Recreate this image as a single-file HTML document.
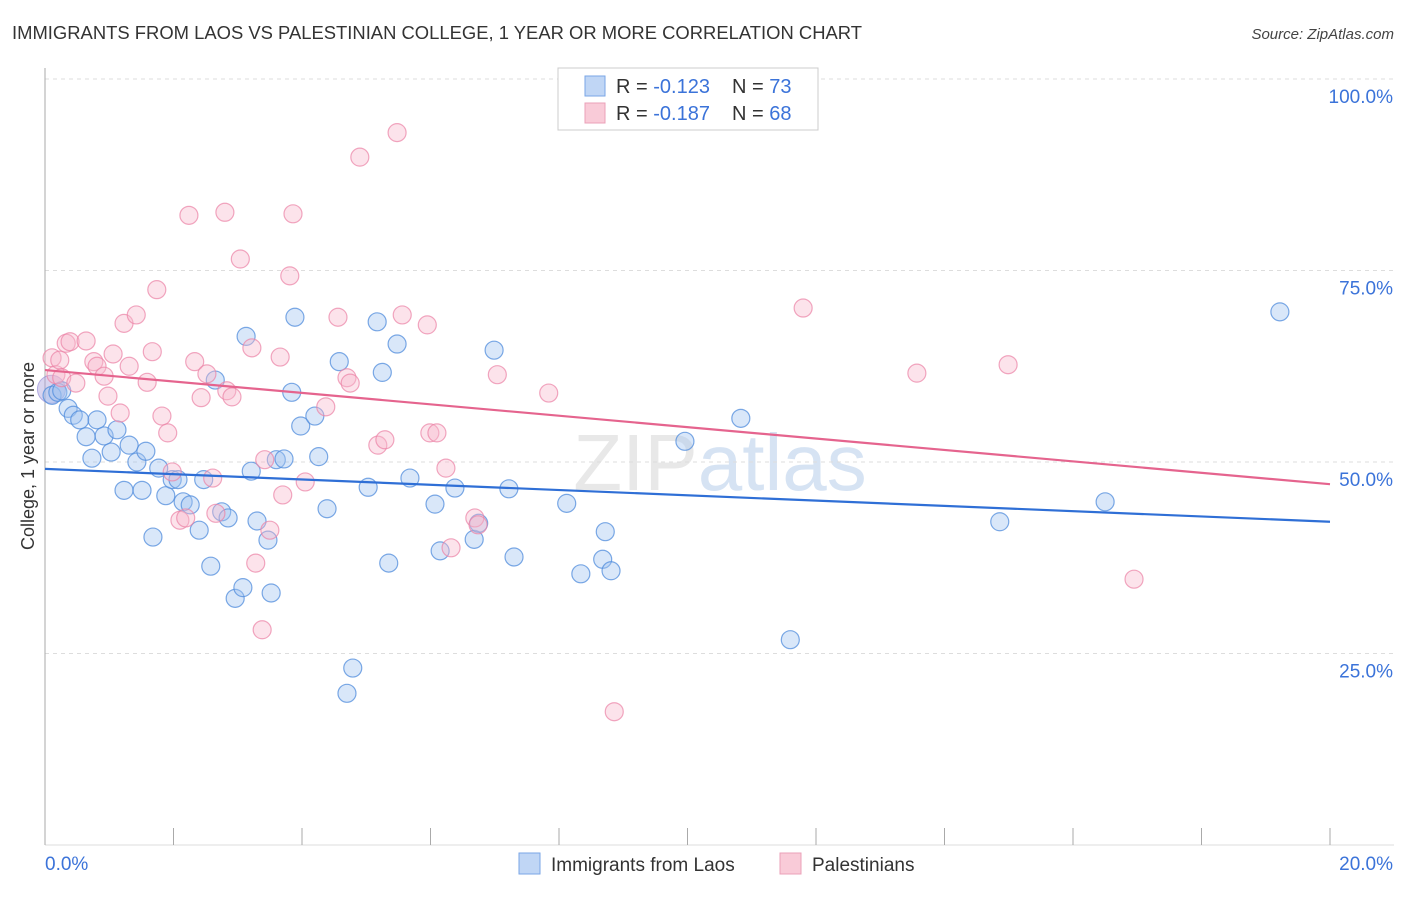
<!DOCTYPE html>
<html><head><meta charset="utf-8"><style>
body{margin:0;background:#fff;font-family:"Liberation Sans",sans-serif;}
svg text{font-family:"Liberation Sans",sans-serif;}
</style></head><body>
<svg id="chart" width="1406" height="892">
<text x="12" y="39" font-size="18" fill="#333" textLength="850" lengthAdjust="spacingAndGlyphs">IMMIGRANTS FROM LAOS VS PALESTINIAN COLLEGE, 1 YEAR OR MORE CORRELATION CHART</text>
<text x="1394" y="39" font-size="15" fill="#444" font-style="italic" text-anchor="end">Source: ZipAtlas.com</text>
<text x="34" y="456" font-size="18" fill="#333" text-anchor="middle" transform="rotate(-90 34 456)">College, 1 year or more</text>
<text x="720" y="490" font-size="80" fill="#e8e8e8" text-anchor="middle" font-family="Liberation Serif">ZIP<tspan fill="#d6e3f3" font-family="Liberation Sans">atlas</tspan></text>
<g id="grid"></g><g id="pts"></g><g id="lines"></g>
<g>
<rect x="558" y="68" width="260" height="62" fill="#fff" stroke="#ccc"/>
<rect x="585" y="76" width="20" height="20" fill="#c0d6f5" stroke="#7aa6e6"/>
<rect x="585" y="103" width="20" height="20" fill="#f9cbd8" stroke="#eba0b8"/>
<text x="616" y="93" font-size="20" fill="#333">R = <tspan fill="#3b73d9">-0.123</tspan></text>
<text x="732" y="93" font-size="20" fill="#333">N = <tspan fill="#3b73d9">73</tspan></text>
<text x="616" y="120" font-size="20" fill="#333">R = <tspan fill="#3b73d9">-0.187</tspan></text>
<text x="732" y="120" font-size="20" fill="#333">N = <tspan fill="#3b73d9">68</tspan></text>
</g>
<g>
<rect x="519" y="853" width="21" height="21" fill="#c0d6f5" stroke="#7aa6e6"/>
<text x="551" y="871" font-size="19" fill="#333">Immigrants from Laos</text>
<rect x="780" y="853" width="21" height="21" fill="#f9cbd8" stroke="#eba0b8"/>
<text x="812" y="871" font-size="19" fill="#333">Palestinians</text>
</g>
</svg>
<script>
const blueX=[0.11,0.20,0.26,0.36,0.44,0.54,0.64,0.73,0.81,0.92,1.03,1.12,1.23,1.31,1.43,1.51,1.57,1.68,1.77,1.88,1.98,2.07,2.15,2.26,2.40,2.47,2.58,2.65,2.75,2.85,2.96,3.08,3.13,3.21,3.30,3.47,3.52,3.60,3.72,3.84,3.89,3.98,4.20,4.26,4.39,4.58,4.79,4.70,5.03,5.17,5.25,5.35,5.48,5.68,6.07,6.15,6.38,6.68,6.75,6.99,7.22,7.30,8.12,8.34,8.68,8.72,8.81,9.96,10.83,11.60,14.86,16.50,19.22];
const blueY=[58.7,59.1,59.3,57.0,56.1,55.5,53.3,50.5,55.5,53.4,51.3,54.2,46.3,52.2,50.0,46.3,51.4,40.2,49.2,45.6,47.7,47.7,44.8,44.4,41.1,47.7,36.4,60.7,43.5,42.7,32.2,33.6,66.4,48.8,42.3,39.8,32.9,50.3,50.4,59.1,68.9,54.7,56.0,50.7,43.9,63.1,23.1,19.8,46.7,68.3,61.7,36.8,65.4,47.9,44.5,38.4,46.6,39.9,42.0,64.6,46.5,37.6,44.6,35.4,37.3,40.9,35.8,52.7,55.7,26.8,42.2,44.8,69.6];
const pinkX=[0.11,0.17,0.23,0.26,0.33,0.39,0.48,0.64,0.76,0.81,0.92,0.98,1.06,1.17,1.23,1.31,1.42,1.59,1.67,1.74,1.82,1.91,1.98,2.10,2.19,2.24,2.33,2.43,2.52,2.61,2.66,2.80,2.83,2.91,3.04,3.22,3.28,3.38,3.42,3.50,3.66,3.70,3.81,3.86,4.05,4.37,4.56,4.70,4.75,4.90,5.18,5.29,5.48,5.56,5.95,5.99,6.10,6.24,6.32,6.69,6.74,7.04,7.84,8.86,11.80,13.57,14.99,16.95];
const pinkY=[63.6,61.4,63.3,61.0,65.5,65.7,60.3,65.8,63.1,62.5,61.2,58.6,64.1,56.4,68.1,62.5,69.2,60.4,64.4,72.5,56.0,53.8,48.7,42.4,42.7,82.2,63.1,58.4,61.5,47.9,43.3,82.6,59.3,58.5,76.5,64.9,36.8,28.1,50.3,41.1,63.7,45.7,74.3,82.4,47.4,57.2,68.9,61.0,60.3,89.8,52.2,52.9,93.0,69.2,67.9,53.8,53.8,49.2,38.8,42.7,41.8,61.4,59.0,17.4,70.1,61.6,62.7,34.7];
const blueTrend=[49.1,42.2];
const pinkTrend=[62.0,47.1];
const yTicks=[25,50,75,100];
const xTicks=[0,2,4,6,8,10,12,14,16,18,20];
const X=v=>45+v/20*1285, Y=v=>845-v/100*766;
const NS='http://www.w3.org/2000/svg';
function mk(tag,attrs,parent){const e=document.createElementNS(NS,tag);for(const k in attrs)e.setAttribute(k,attrs[k]);parent.appendChild(e);return e;}
const grid=document.getElementById('grid'),pts=document.getElementById('pts'),lines=document.getElementById('lines'),svg=document.getElementById('chart');
yTicks.forEach(t=>{
 const l=mk('line',{x1:45,x2:1394,y1:Y(t),y2:Y(t),stroke:'#ddd','stroke-dasharray':'4 4'},grid);
 
 
 const tx=mk('text',{x:1393,y:Y(t)+24,'font-size':19,fill:'#3b73d9','text-anchor':'end'},svg);
 tx.textContent=t.toFixed(1)+'%';
 
 
});
const ax=mk('line',{x1:45,x2:45,y1:68,y2:845,stroke:'#aaa'},grid);


const bx=mk('line',{x1:45,x2:1394,y1:845,y2:845,stroke:'#ddd'},grid);


xTicks.forEach(t=>{
 const l=mk('line',{x1:X(t),x2:X(t),y1:828,y2:845,stroke:'#aaa'},grid);
 
 
});
[[0,'start',45,'0.0%'],[20,'end',1393,'20.0%']].forEach(a=>{
 const tx=mk('text',{x:a[2],y:870,'font-size':19,fill:'#3b73d9','text-anchor':a[1]},svg);
 tx.textContent=a[3];
 
 
});
const blob=mk('circle',{cx:X(0.1),cy:Y(59.5),r:14,fill:'rgba(170,160,220,0.45)',stroke:'rgba(140,130,210,0.6)'},pts);


blueX.forEach((v,i)=>{
 const c=mk('circle',{cx:X(v),cy:Y(blueY[i]),r:9,fill:'rgba(160,195,240,0.4)',stroke:'rgba(80,140,220,0.75)','stroke-width':1.2},pts);
 
 
});
pinkX.forEach((v,i)=>{
 const c=mk('circle',{cx:X(v),cy:Y(pinkY[i]),r:9,fill:'rgba(248,185,205,0.4)',stroke:'rgba(235,130,165,0.7)','stroke-width':1.2},pts);
 
 
});
const bl=mk('line',{x1:X(0),y1:Y(blueTrend[0]),x2:X(20),y2:Y(blueTrend[1]),stroke:'#2f6fd6','stroke-width':2.2},lines);


const pl=mk('line',{x1:X(0),y1:Y(pinkTrend[0]),x2:X(20),y2:Y(pinkTrend[1]),stroke:'#e5648e','stroke-width':2.2},lines);


</script>
</body></html>
